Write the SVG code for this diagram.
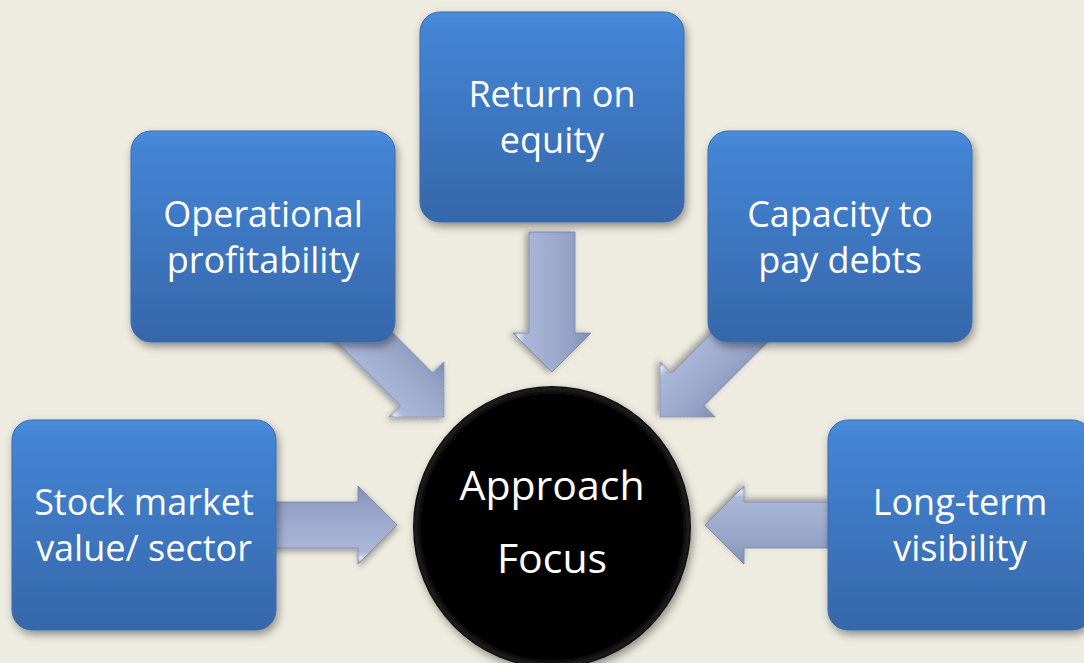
<svg xmlns="http://www.w3.org/2000/svg" width="1084" height="663" viewBox="0 0 1084 663">
<defs>
<linearGradient id="boxg" x1="0" y1="0" x2="0" y2="1">
<stop offset="0" stop-color="#4A8CDB"/>
<stop offset="0.08" stop-color="#4384D4"/>
<stop offset="1" stop-color="#3667AA"/>
</linearGradient>
<linearGradient id="arrg" x1="0" y1="0" x2="0" y2="1">
<stop offset="0" stop-color="#7D8DB4"/>
<stop offset="0.25" stop-color="#93A1C4"/>
<stop offset="0.6" stop-color="#A2AFD1"/>
<stop offset="0.85" stop-color="#ABB7D8"/>
<stop offset="0.93" stop-color="#DCE2F1"/>
<stop offset="1" stop-color="#8796BC"/>
</linearGradient>
<radialGradient id="circg" cx="0.5" cy="0.5" r="0.5">
<stop offset="0" stop-color="#000"/>
<stop offset="0.94" stop-color="#030303"/>
<stop offset="0.98" stop-color="#1e1e1e"/>
<stop offset="1" stop-color="#0a0a0a"/>
</radialGradient>
<filter id="sh" x="-20%" y="-20%" width="140%" height="140%">
<feDropShadow dx="2" dy="4" stdDeviation="4" flood-color="#000" flood-opacity="0.4"/>
</filter>
<filter id="ash" x="-20%" y="-30%" width="140%" height="160%">
<feDropShadow dx="1" dy="3" stdDeviation="3" flood-color="#000" flood-opacity="0.35"/>
</filter>
<polygon id="arrow" points="0,0 -39,-39 -39,-23 -140,-23 -140,23 -39,23 -39,39"/>
</defs>
<style>
.box{fill:url(#boxg);stroke:#3A6CAE;stroke-width:1;filter:url(#sh)}
.arr{fill:url(#arrg);stroke:#7586AF;stroke-width:0.8;filter:url(#ash)}
.t{font-family:"Open Sans","Liberation Sans",sans-serif;font-size:36px;fill:#fff;text-anchor:middle}
.ct{font-family:"Open Sans","Liberation Sans",sans-serif;font-size:41px;fill:#fff;text-anchor:middle}
</style>
<rect width="1084" height="663" fill="#EEEBE0"/>
<g id="connectors">
<use href="#arrow" class="arr" transform="translate(552,372) rotate(90)"/>
<use href="#arrow" class="arr" transform="translate(444,417) rotate(45)"/>
<use href="#arrow" class="arr" transform="translate(660,417) rotate(135)"/>
<use href="#arrow" class="arr" transform="translate(397,525)"/>
<use href="#arrow" class="arr" transform="translate(705,525) rotate(180)"/>
</g>
<g id="center">
<ellipse cx="552" cy="527" rx="139" ry="141" fill="url(#circg)" filter="url(#sh)"/>
<text class="ct" x="552" y="500">Approach</text>
<text class="ct" x="552" y="573">Focus</text>
</g>
<g id="return-on-equity">
<rect class="box" x="420" y="12" width="264" height="210" rx="20"/>
<text class="t" x="552" y="107">Return on</text>
<text class="t" x="552" y="153">equity</text>
</g>
<g id="operational-profitability">
<rect class="box" x="131" y="131" width="264" height="211" rx="20"/>
<text class="t" x="263" y="227">Operational</text>
<text class="t" x="263" y="273">profitability</text>
</g>
<g id="capacity-to-pay-debts">
<rect class="box" x="708" y="131" width="264" height="211" rx="20"/>
<text class="t" x="840" y="227">Capacity to</text>
<text class="t" x="840" y="273">pay debts</text>
</g>
<g id="stock-market-value">
<rect class="box" x="12" y="420" width="264" height="210" rx="20"/>
<text class="t" x="144" y="515">Stock market</text>
<text class="t" x="144" y="561">value/ sector</text>
</g>
<g id="long-term-visibility">
<rect class="box" x="828" y="420" width="264" height="210" rx="20"/>
<text class="t" x="960" y="515">Long-term</text>
<text class="t" x="960" y="561">visibility</text>
</g>
</svg>
